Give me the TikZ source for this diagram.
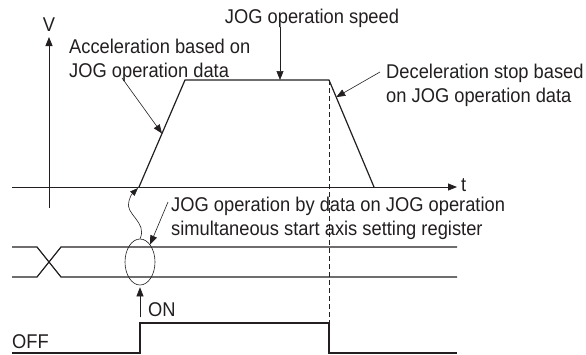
\documentclass[tikz,border=0pt]{standalone}
\usepackage{fontspec}
\setmainfont[FakeStretch=0.92]{Liberation Sans}
\usetikzlibrary{arrows.meta,calc,shapes.geometric}
\definecolor{TimingInk}{HTML}{231F20}

\begin{document}
\begin{tikzpicture}[x=1pt,y=-1pt,>={Triangle[length=9pt,width=7pt]},
  every node/.style={font=\fontsize{19.9}{23.5}\selectfont,text=TimingInk,inner sep=0pt},
  axis/.style={->,TimingInk,line width=0.8pt},
  wave/.style={TimingInk,line width=1.2pt},
  note/.style={->,TimingInk,line width=0.6pt}]
  \useasboundingbox (0,0) rectangle (586,354);
  % speed profile
  \coordinate (o) at (49,187);
  \coordinate (a0) at (139,187);
  \coordinate (a1) at (185,80);
  \coordinate (d0) at (329,80);
  \coordinate (d1) at (374,187);
  \draw[axis] (49,208) -- (49,37);
  \draw[axis] (12,187) -- (457,187);
  \node[anchor=base] (vlbl) at (49,31) {V};
  \node[anchor=base west] (tlbl) at (461,191) {t};
  \draw[wave,line join=round] (a0) -- (a1) -- (d0) -- (d1);
  \draw[TimingInk,line width=0.6pt,dash pattern=on 5pt off 3pt] (d0) -- (329,323);
  % labels
  \node[anchor=base] (spd) at (312,23) {JOG operation speed};
  \node[anchor=north west,align=left] (acc) at (69,39) {Acceleration based on\\JOG operation data};
  \node[anchor=north west,align=left] (dec) at (386,64) {Deceleration stop based\\on JOG operation data};
  \node[anchor=north west,align=left] (sim) at (171,197) {JOG operation by data on JOG operation\\simultaneous start axis setting register};
  \coordinate (sp) at (280,80);
  \draw[note] (spd.south -| sp) -- (sp);
  \draw[note] (122,78) -- ($(a0)!0.5!(a1)$);
  \draw[note] ($(dec.north west)+(-6,8)$) -- ($(d0)!0.16!(d1)$);
  % setting register
  \draw[wave] (12,247) -- (37,247) -- (61,277) -- (457,277);
  \draw[wave] (12,277) -- (37,277) -- (61,247) -- (457,247);
  \node[ellipse,draw=TimingInk,line width=0.6pt,minimum width=30pt,minimum height=46pt] (ell) at (140,262) {};
  \draw[note] ($(sim.north west)+(-3,5)$) -- (ell.60);
  \draw[TimingInk,line width=0.6pt,-{Triangle[length=8pt,width=6pt]}] (ell.north) .. controls (148,222) and (124,214) .. (129,201) .. controls (131,195) .. (138,188);
  % start signal
  \node[anchor=base west] (on) at (148,316) {ON};
  \node[anchor=base west] (off) at (12,348) {OFF};
  \draw[note] ($(ell.south)+(0,32)$) -- ($(ell.south)+(0,2)$);
  \draw[wave] (12,353) -- (140,353) -- (140,323) -- (329,323) -- (329,353) -- (457,353);
\end{tikzpicture}
\end{document}
